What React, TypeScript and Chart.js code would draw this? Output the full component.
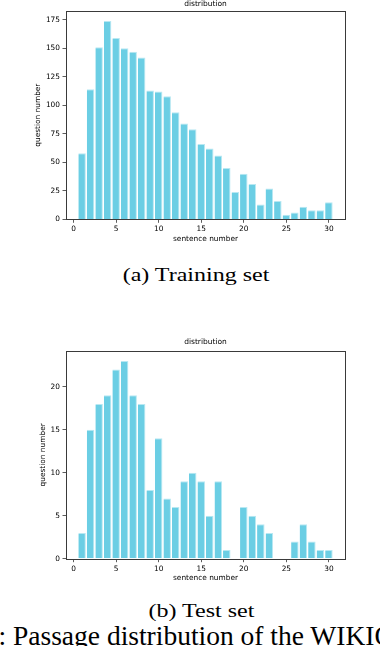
import React, { useEffect, useRef } from "react";
import { Chart, registerables } from "chart.js";

Chart.register(...registerables);

// ---------- data ----------
const sentenceNumbers = [
  1, 2, 3, 4, 5, 6, 7, 8, 9, 10, 11, 12, 13, 14, 15, 16, 17, 18, 19, 20, 21, 22,
  23, 24, 25, 26, 27, 28, 29, 30,
];
const trainingCounts = [
  58, 114, 151, 174, 159, 150, 147, 142, 113, 112, 108, 94, 84, 79, 66, 62, 56,
  45, 24, 40, 31, 13, 27, 16, 4, 6, 11, 8, 8, 15,
];
const testCounts = [
  3, 15, 18, 19, 22, 23, 19, 18, 8, 14, 7, 6, 9, 10, 9, 5, 9, 1, 0, 6, 5, 4, 3,
  0, 0, 2, 4, 2, 1, 1,
];
const xTicks = [0, 5, 10, 15, 20, 25, 30];
const trainingYTicks = [0, 25, 50, 75, 100, 125, 150, 175];
const testYTicks = [0, 5, 10, 15, 20];
const chartTitle = "distribution";
const xAxisLabel = "sentence number";
const yAxisLabel = "question number";
const captionA = "(a) Training set";
const captionB = "(b) Test set";
const figureCaption = "Figure 3: Passage distribution of the WIKIQA dataset.";

const BAR_COLOR = "#6BCEE4";
const BAR_EDGE = "#B8E8F2";
const FONT = "'DejaVu Sans', sans-serif";

const framePlugin = {
  id: "frame",
  afterDatasetsDraw(chart: any) {
    const { ctx, chartArea } = chart;
    ctx.save();
    ctx.strokeStyle = "#3a3a3a";
    ctx.lineWidth = 1;
    ctx.strokeRect(
      Math.round(chartArea.left) + 0.5,
      Math.round(chartArea.top) + 0.5,
      Math.round(chartArea.right - chartArea.left),
      Math.round(chartArea.bottom - chartArea.top)
    );
    ctx.restore();
  },
};

type PanelProps = {
  counts: number[];
  yTicks: number[];
  top: number;
  height: number;
  titlePadBottom: number;
  plotBottom: number; // in canvas coords
  yTitlePad: number;
  xTitlePad: number;
};

function BarPanel(props: PanelProps) {
  const ref = useRef<HTMLCanvasElement | null>(null);
  useEffect(() => {
    if (!ref.current) return;
    const { counts, yTicks, height, titlePadBottom, plotBottom, yTitlePad, xTitlePad } = props;
    const yMax = Math.max(...counts) * 1.05;
    const span = sentenceNumbers[sentenceNumbers.length - 1] - sentenceNumbers[0] + 0.8;
    const xMin = sentenceNumbers[0] - 0.4 - span * 0.05;
    const xMax = sentenceNumbers[sentenceNumbers.length - 1] + 0.4 + span * 0.05;
    const tickFont = { family: FONT, size: 7.4 };
    const chart = new Chart(ref.current, {
      type: "bar",
      data: {
        datasets: [
          {
            data: sentenceNumbers.map((x, i) => ({ x, y: counts[i] })),
            backgroundColor: BAR_COLOR,
            borderColor: BAR_EDGE,
            borderWidth: (c: any) =>
              c.raw && c.raw.y === 0 ? 0 : { top: 1, right: 1, left: 0, bottom: 0 },
            borderSkipped: "start",
            categoryPercentage: 1,
            barPercentage: 0.88,
          } as any,
        ],
      },
      options: {
        responsive: false,
        animation: false,
        events: [],
        layout: { padding: { top: 0, right: 35, left: 0, bottom: 0 } },
        plugins: {
          legend: { display: false },
          tooltip: { enabled: false },
          title: {
            display: true,
            text: chartTitle,
            fullSize: false,
            color: "#000",
            font: { family: FONT, size: 7.5, weight: "normal" },
            padding: { top: 0, bottom: titlePadBottom },
          },
        },
        scales: {
          x: {
            type: "linear",
            min: xMin,
            max: xMax,
            offset: false,
            grid: {
              display: true,
              offset: false,
              drawOnChartArea: false,
              drawTicks: true,
              tickLength: 3.5,
              color: "#333",
              lineWidth: 0.8,
            },
            border: { display: false },
            ticks: { color: "#000", font: tickFont, padding: 2, maxRotation: 0 },
            title: {
              display: true,
              text: xAxisLabel,
              color: "#000",
              font: tickFont,
              padding: { top: 0, bottom: xTitlePad },
            },
            afterBuildTicks: (s: any) => {
              s.ticks = xTicks.map((v) => ({ value: v }));
            },
            afterFit: (s: any) => {
              s.height = height - plotBottom;
            },
          },
          y: {
            type: "linear",
            min: 0,
            max: yMax,
            grid: {
              display: true,
              drawOnChartArea: false,
              drawTicks: true,
              tickLength: 3.5,
              color: "#333",
              lineWidth: 0.8,
            },
            border: { display: false },
            ticks: { color: "#000", font: tickFont, padding: 2.5 },
            title: {
              display: true,
              text: yAxisLabel,
              color: "#000",
              font: tickFont,
              padding: { top: yTitlePad, bottom: 0 },
            },
            afterBuildTicks: (s: any) => {
              s.ticks = yTicks.map((v) => ({ value: v }));
            },
            afterFit: (s: any) => {
              s.width = 66;
            },
          },
        },
      } as any,
      plugins: [framePlugin],
    });
    return () => chart.destroy();
  }, []);
  return (
    <canvas
      ref={ref}
      width={380}
      height={props.height}
      style={{ position: "absolute", left: 0, top: props.top, width: 380, height: props.height }}
    />
  );
}

const captionStyle: React.CSSProperties = {
  position: "absolute",
  left: 0,
  width: 380,
  height: 30,
  lineHeight: "30px",
  fontSize: 24,
  fontFamily: "'Liberation Serif', 'Times New Roman', serif",
  color: "#000",
  whiteSpace: "nowrap",
  transform: "scaleY(0.82)",
};

export default function App() {
  return (
    <div
      style={{
        position: "absolute",
        left: 0,
        top: 0,
        width: 380,
        height: 646,
        overflow: "hidden",
        background: "#fff",
      }}
    >
      <BarPanel
        counts={trainingCounts}
        yTicks={trainingYTicks}
        top={0}
        height={250}
        titlePadBottom={2}
        plotBottom={219.3}
        yTitlePad={33.6}
        xTitlePad={6.6}
      />
      <BarPanel
        counts={testCounts}
        yTicks={testYTicks}
        top={338}
        height={250}
        titlePadBottom={4}
        plotBottom={220.7}
        yTitlePad={38.6}
        xTitlePad={5.6}
      />
      <div style={{ ...captionStyle, top: 259, textAlign: "center", paddingLeft: 12, boxSizing: "border-box" }}>
        {captionA}
      </div>
      <div style={{ ...captionStyle, top: 595, textAlign: "center", paddingLeft: 23, boxSizing: "border-box" }}>
        {captionB}
      </div>
      <div
        style={{
          ...captionStyle,
          top: 621,
          left: -94,
          width: 700,
          fontSize: 27.5,
          transform: "none",
        }}
      >
        {figureCaption}
      </div>
    </div>
  );
}
